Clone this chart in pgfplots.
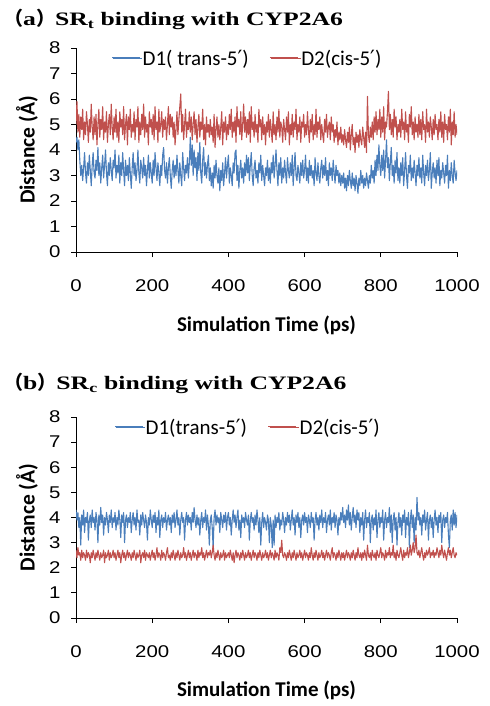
\documentclass[border=0pt]{standalone}
\usepackage{fontspec}
\usepackage{pgfplots}
\usepackage{pgfplotstable}
\pgfplotsset{compat=1.18}
\setmainfont{Liberation Sans}
\newfontfamily\tickfont{Liberation Sans}[FakeStretch=1.2]
\newfontfamily\calfont{Carlito}
\newfontfamily\symfont{DejaVu Sans}
\newfontfamily\titlefont{Liberation Serif}[FakeStretch=1.35]
\newfontfamily\cjkfont{Noto Sans CJK SC}
\definecolor{xlblue}{HTML}{4A7EBB}
\definecolor{xlred}{HTML}{C0504D}

\pgfplotstableread{
t d1 d2
0 4.3 5.0
2.5 4.5 5.9
5 4.0 4.7
7.5 4.4 5.4
10 3.6 4.5
12.5 3.0 5.3
15 3.4 4.8
17.5 2.8 5.6
20 3.3 4.4
22.5 3.9 5.1
25 3.1 4.6
27.5 2.7 5.5
30 3.5 5.0
32.5 3.0 4.3
35 3.8 5.2
37.5 3.2 4.7
40 2.6 5.8
42.5 3.4 4.9
45 3.9 4.4
47.5 3.1 5.3
50 2.9 4.6
52.5 3.6 5.4
55 3.2 4.2
57.5 4.1 5.0
60 3.0 5.6
62.5 3.5 4.5
65 2.7 5.2
67.5 3.3 4.8
70 3.8 5.7
72.5 2.9 4.4
75 3.4 5.1
77.5 4.0 4.7
80 3.1 5.5
82.5 2.6 4.3
85 3.5 5.0
87.5 3.0 5.4
90 3.7 4.6
92.5 3.2 5.8
95 2.8 4.9
97.5 3.6 4.4
100 3.3 5.3
102.5 4.0 4.7
105 2.9 5.6
107.5 3.4 4.5
110 3.1 5.1
112.5 3.8 4.3
115 2.7 5.5
117.5 3.5 4.9
120 3.0 5.2
122.5 3.9 4.6
125 3.2 5.7
127.5 2.6 4.4
130 3.6 5.0
132.5 3.0 5.4
135 3.4 4.2
137.5 2.8 5.3
140 3.7 4.8
142.5 3.1 5.6
145 2.5 4.5
147.5 3.3 5.0
150 3.9 4.7
152.5 3.0 5.5
155 3.5 4.4
157.5 2.8 5.2
160 3.2 4.9
162.5 4.0 5.7
165 3.1 4.3
167.5 2.7 5.1
170 3.6 4.6
172.5 3.3 5.4
175 2.9 4.8
177.5 3.7 5.8
180 3.0 4.5
182.5 3.4 5.3
185 2.6 4.7
187.5 3.2 5.0
190 3.8 4.2
192.5 2.9 5.5
195 3.5 4.9
197.5 3.1 5.2
200 2.7 4.6
202.5 3.6 5.4
205 3.0 4.4
207.5 3.9 5.7
210 3.3 4.8
212.5 2.8 5.1
215 3.5 4.3
217.5 3.1 5.6
220 2.6 4.7
222.5 3.4 5.0
225 3.0 5.5
227.5 3.8 4.5
230 4.1 5.2
232.5 3.2 4.8
235 2.9 5.3
237.5 3.5 4.4
240 2.7 5.0
242.5 3.3 5.7
245 3.7 4.6
247.5 3.0 5.4
250 2.5 4.9
252.5 3.2 5.3
255 3.6 4.5
257.5 2.9 5.1
260 3.4 4.2
262.5 3.0 4.8
265 3.8 5.5
267.5 3.2 4.6
270 2.7 5.2
272.5 3.5 5.7
275 3.0 6.2
277.5 2.6 4.7
280 3.9 5.4
282.5 3.3 4.4
285 2.8 5.0
287.5 3.4 5.6
290 3.1 4.5
292.5 3.7 5.1
295 2.9 4.8
297.5 3.5 5.5
300 4.5 4.7
302.5 3.4 5.3
305 4.2 4.4
307.5 3.0 5.0
310 4.0 5.5
312.5 3.3 4.6
315 3.7 5.2
317.5 2.8 4.3
320 3.9 4.9
322.5 3.2 5.4
325 4.3 4.5
327.5 3.1 5.1
330 2.7 4.8
332.5 3.6 5.6
335 4.1 4.4
337.5 3.0 5.0
340 3.5 4.2
342.5 2.9 5.3
345 3.4 4.7
347.5 3.8 5.0
350 2.8 4.5
352.5 3.3 5.2
355 2.6 4.6
357.5 3.1 4.9
360 2.5 4.3
362.5 3.4 5.4
365 2.9 4.1
367.5 3.6 4.8
370 3.0 5.3
372.5 2.7 4.5
375 3.3 5.0
377.5 2.4 4.4
380 3.2 4.9
382.5 2.8 5.5
385 3.5 4.2
387.5 2.6 5.1
390 3.1 4.7
392.5 3.7 5.3
395 2.9 4.4
397.5 3.4 5.0
400 3.8 4.6
402.5 2.7 5.4
405 3.3 4.8
407.5 3.0 5.6
410 2.6 4.5
412.5 3.5 5.1
415 3.1 4.7
417.5 3.9 5.3
420 4.0 4.3
422.5 2.8 5.7
425 3.4 4.9
427.5 2.5 5.2
430 3.2 4.6
432.5 3.6 5.5
435 2.9 4.4
437.5 3.3 5.0
440 2.7 5.8
442.5 3.5 4.7
445 3.0 5.3
447.5 3.8 4.5
450 3.1 5.2
452.5 3.7 4.6
455 2.8 5.5
457.5 3.4 4.3
460 3.9 5.7
462.5 3.0 4.8
465 2.6 5.1
467.5 3.3 4.5
470 3.6 5.4
472.5 2.9 4.7
475 3.2 5.0
477.5 2.7 4.3
480 3.5 5.6
482.5 3.1 4.9
485 3.8 5.2
487.5 2.8 4.4
490 3.4 5.3
492.5 3.0 4.6
495 2.6 5.0
497.5 3.3 4.2
500 3.0 5.1
502.5 3.6 4.7
505 2.8 5.4
507.5 3.3 4.5
510 2.7 5.2
512.5 3.5 4.8
515 3.1 4.3
517.5 3.8 5.5
520 2.9 4.6
522.5 3.4 5.0
525 4.0 4.4
527.5 3.2 5.3
530 2.6 4.7
532.5 3.5 5.6
535 3.0 4.5
537.5 3.7 5.1
540 2.7 4.9
542.5 3.3 4.3
545 2.9 5.2
547.5 3.6 4.8
550 3.1 4.4
552.5 2.7 5.3
555 3.7 4.7
557.5 3.2 5.5
560 2.9 4.2
562.5 3.5 5.0
565 3.0 4.6
567.5 3.8 5.4
570 2.6 4.5
572.5 3.3 5.1
575 3.9 4.8
577.5 3.0 5.6
580 2.8 4.4
582.5 3.4 5.0
585 3.1 4.7
587.5 2.7 5.3
590 3.5 4.3
592.5 3.0 5.1
595 3.6 4.9
597.5 2.9 5.4
600 3.2 4.5
602.5 3.8 5.0
605 2.8 4.6
607.5 3.3 5.5
610 2.7 4.8
612.5 3.6 4.3
615 3.0 5.2
617.5 3.4 4.7
620 2.9 5.4
622.5 3.2 4.4
625 2.6 5.0
627.5 3.7 4.6
630 3.1 5.6
632.5 2.8 4.5
635 3.5 5.1
637.5 3.0 4.8
640 2.7 5.3
642.5 3.3 4.4
645 3.6 5.0
647.5 2.9 4.6
650 3.4 4.3
652.5 3.0 5.2
655 3.7 4.7
657.5 2.8 5.4
660 3.2 4.5
662.5 2.6 4.9
665 3.5 5.1
667.5 3.0 4.4
670 3.3 5.3
672.5 2.8 4.7
675 3.6 5.0
677.5 3.1 4.3
680 2.7 4.8
682.5 3.4 4.5
685 3.0 5.1
687.5 3.2 4.2
690 2.7 4.7
692.5 3.1 4.4
695 2.6 4.9
697.5 3.0 4.3
700 2.7 4.6
702.5 3.1 4.2
705 2.5 4.8
707.5 2.9 4.4
710 2.4 4.1
712.5 3.0 4.7
715 2.6 4.3
717.5 3.2 4.9
720 2.8 4.0
722.5 2.5 4.6
725 3.1 5.0
727.5 2.6 4.2
730 2.9 4.5
732.5 2.4 3.9
735 3.0 4.7
737.5 2.7 4.3
740 2.3 4.6
742.5 2.9 4.1
745 2.6 4.8
747.5 3.2 4.4
750 2.7 4.2
752.5 3.0 4.9
755 2.5 4.5
757.5 2.9 4.1
760 2.6 4.7
762.5 3.1 3.9
765 2.8 6.1
767.5 2.5 4.6
770 3.0 4.3
772.5 2.7 4.9
775 3.4 4.5
777.5 2.9 5.1
780 3.2 4.4
782.5 2.7 5.3
785 3.6 4.7
787.5 3.0 5.5
790 3.8 4.6
792.5 3.2 5.2
795 4.2 4.8
797.5 3.4 5.6
800 3.0 4.5
802.5 3.8 5.3
805 3.2 4.7
807.5 4.0 5.7
810 2.9 4.4
812.5 3.6 5.1
815 4.4 4.9
817.5 3.3 5.5
820 3.7 6.3
822.5 2.8 4.8
825 3.5 5.4
827.5 4.1 4.6
830 3.0 5.2
832.5 3.4 4.5
835 2.7 5.6
837.5 3.6 4.9
840 3.1 5.3
842.5 3.9 4.4
845 2.8 5.0
847.5 3.3 4.7
850 2.7 5.2
852.5 3.5 4.5
855 3.0 5.6
857.5 3.7 4.8
860 2.6 5.1
862.5 3.2 4.4
865 3.9 5.5
867.5 3.0 4.7
870 2.5 5.0
872.5 3.4 4.3
875 3.1 5.4
877.5 3.8 4.9
880 2.8 5.7
882.5 3.3 4.6
885 2.9 5.1
887.5 3.6 4.4
890 3.1 5.3
892.5 2.6 4.7
895 3.4 5.0
897.5 3.0 4.5
900 3.7 5.4
902.5 2.9 4.6
905 3.3 5.2
907.5 2.7 4.4
910 3.8 5.5
912.5 3.1 4.8
915 2.6 5.0
917.5 3.4 4.3
920 3.0 5.6
922.5 3.6 4.7
925 2.8 5.1
927.5 3.2 4.5
930 3.9 5.3
932.5 2.5 4.9
935 3.1 4.4
937.5 3.5 5.2
940 2.9 4.6
942.5 3.3 5.4
945 2.7 4.8
947.5 3.6 5.0
950 3.0 4.4
952.5 3.7 5.2
955 2.6 4.7
957.5 3.2 5.5
960 2.9 4.5
962.5 3.5 5.1
965 3.1 4.3
967.5 2.7 5.4
970 3.4 4.8
972.5 3.0 5.0
975 3.8 4.4
977.5 2.5 5.3
980 3.2 4.7
982.5 2.8 5.6
985 3.5 4.2
987.5 3.0 5.1
990 2.7 4.6
992.5 3.6 5.5
995 3.1 4.5
997.5 2.8 5.0
1000 3.2 4.6
}\dataA

\pgfplotstableread{
t d1 d2
0 4.3 2.7
2.5 3.9 2.4
5 4.2 2.8
7.5 3.6 2.5
10 4.0 2.6
12.5 2.9 2.3
15 4.1 2.7
17.5 3.7 2.4
20 4.3 2.6
22.5 3.4 2.5
25 4.0 2.3
27.5 3.8 2.7
30 4.2 2.4
32.5 3.1 2.6
35 3.9 2.5
37.5 4.1 2.2
40 3.6 2.6
42.5 4.3 2.4
45 3.8 2.7
47.5 4.0 2.5
50 3.5 2.3
52.5 4.2 2.6
55 3.9 2.4
57.5 3.0 2.7
60 4.1 2.5
62.5 3.7 2.3
65 4.4 2.6
67.5 3.8 2.4
70 4.1 2.5
72.5 3.3 2.7
75 4.0 2.2
77.5 3.7 2.6
80 4.2 2.4
82.5 3.9 2.5
85 3.4 2.7
87.5 4.1 2.3
90 3.8 2.6
92.5 4.3 2.4
95 3.6 2.5
97.5 4.0 2.7
100 3.8 2.4
102.5 4.2 2.6
105 3.5 2.3
107.5 4.0 2.5
110 3.7 2.7
112.5 4.3 2.4
115 3.9 2.6
117.5 3.2 2.2
120 4.1 2.5
122.5 3.8 2.7
125 4.2 2.4
127.5 3.0 2.6
130 3.9 2.3
132.5 4.1 2.5
135 3.6 2.7
137.5 4.0 2.4
140 3.8 2.6
142.5 4.2 2.5
145 3.4 2.3
147.5 3.9 2.6
150 4.2 2.4
152.5 3.7 2.7
155 4.0 2.5
157.5 3.5 2.3
160 4.3 2.6
162.5 3.8 2.4
165 3.9 2.5
167.5 3.3 2.7
170 4.1 2.2
172.5 3.7 2.5
175 4.2 2.6
177.5 3.9 2.4
180 3.6 2.7
182.5 4.1 2.3
185 3.8 2.6
187.5 3.1 2.5
190 4.0 2.4
192.5 3.7 2.6
195 4.3 2.3
197.5 3.9 2.5
200 3.6 2.7
202.5 4.1 2.4
205 3.8 2.6
207.5 4.2 2.3
210 3.4 2.5
212.5 4.0 2.8
215 3.7 2.4
217.5 4.3 2.6
220 3.2 2.5
222.5 3.9 2.3
225 4.1 2.7
227.5 3.6 2.4
230 4.0 2.6
232.5 3.8 2.5
235 4.2 2.3
237.5 3.5 2.6
240 3.9 2.8
242.5 4.1 2.4
245 3.7 2.5
247.5 4.0 2.3
250 3.4 2.6
252.5 4.1 2.4
255 3.8 2.7
257.5 4.2 2.5
260 3.6 2.3
262.5 3.9 2.6
265 4.3 2.4
267.5 3.7 2.7
270 4.0 2.5
272.5 3.3 2.3
275 3.9 2.6
277.5 4.2 2.4
280 3.8 2.5
282.5 4.0 2.8
285 3.1 2.4
287.5 3.9 2.6
290 4.2 2.3
292.5 3.7 2.5
295 4.1 2.7
297.5 3.8 2.4
300 4.0 2.6
302.5 3.5 2.3
305 4.2 2.5
307.5 3.8 2.7
310 4.4 2.4
312.5 3.9 2.6
315 3.6 2.5
317.5 4.1 2.3
320 3.7 2.7
322.5 4.0 2.4
325 3.3 2.6
327.5 3.9 2.5
330 4.2 2.8
332.5 3.6 2.4
335 4.0 2.6
337.5 3.8 2.3
340 4.3 2.5
342.5 3.5 2.7
345 4.1 2.4
347.5 3.7 2.6
350 2.9 2.5
352.5 3.9 2.7
355 4.1 2.4
357.5 3.6 2.6
360 2.8 2.9
362.5 4.0 2.5
365 4.3 2.3
367.5 3.7 2.6
370 4.1 2.4
372.5 3.8 2.7
375 4.0 2.5
377.5 3.4 2.3
380 4.2 2.6
382.5 3.9 2.4
385 3.6 2.5
387.5 4.1 2.7
390 3.8 2.3
392.5 4.2 2.6
395 3.5 2.4
397.5 4.0 2.5
400 4.2 2.6
402.5 3.7 2.4
405 4.0 2.7
407.5 3.3 2.5
410 3.9 2.3
412.5 4.3 2.6
415 3.8 2.2
417.5 4.1 2.5
420 3.6 2.7
422.5 4.0 2.4
425 4.3 2.6
427.5 3.5 2.5
430 3.9 2.3
432.5 3.2 2.6
435 4.1 2.4
437.5 3.8 2.7
440 4.0 2.5
442.5 3.6 2.3
445 4.2 2.6
447.5 3.9 2.4
450 3.7 2.5
452.5 4.1 2.7
455 3.1 2.4
457.5 3.9 2.6
460 4.2 2.3
462.5 3.8 2.5
465 4.0 2.7
467.5 3.5 2.4
470 4.1 2.6
472.5 3.7 2.5
475 4.3 2.3
477.5 3.9 2.6
480 3.4 2.4
482.5 4.0 2.7
485 2.9 2.5
487.5 3.8 2.3
490 4.2 2.6
492.5 3.6 2.4
495 4.0 2.5
497.5 3.8 2.7
500 3.5 2.4
502.5 4.1 2.6
505 3.9 2.3
507.5 3.0 2.5
510 4.0 2.7
512.5 3.7 2.4
515 2.8 2.6
517.5 3.9 2.5
520 2.9 2.3
522.5 4.1 2.7
525 3.6 2.4
527.5 4.0 2.6
530 3.8 2.5
532.5 4.2 2.3
535 3.5 2.8
537.5 3.9 2.6
540 3.7 3.1
542.5 4.2 2.5
545 3.9 2.4
547.5 3.4 2.6
550 4.0 2.5
552.5 3.7 2.3
555 4.2 2.6
557.5 3.8 2.4
560 4.1 2.7
562.5 3.5 2.5
565 3.9 2.3
567.5 4.3 2.6
570 3.7 2.4
572.5 4.0 2.7
575 3.3 2.5
577.5 4.1 2.3
580 3.8 2.6
582.5 4.2 2.4
585 3.6 2.5
587.5 4.0 2.7
590 3.2 2.4
592.5 3.9 2.6
595 4.1 2.3
597.5 3.7 2.5
600 4.2 2.7
602.5 3.8 2.4
605 4.0 2.6
607.5 3.4 2.5
610 4.1 2.3
612.5 3.9 2.6
615 3.6 2.4
617.5 4.2 2.8
620 3.8 2.5
622.5 4.0 2.3
625 3.1 2.6
627.5 3.9 2.4
630 4.2 2.7
632.5 3.7 2.5
635 4.0 2.3
637.5 3.5 2.6
640 4.1 2.4
642.5 3.8 2.5
645 4.3 2.7
647.5 3.6 2.4
650 4.0 2.6
652.5 3.8 2.3
655 4.2 2.5
657.5 3.4 2.7
660 3.9 2.4
662.5 4.1 2.6
665 3.7 2.5
667.5 4.3 2.3
670 3.5 2.6
672.5 4.0 2.8
675 3.8 2.4
677.5 4.2 2.6
680 3.6 2.5
682.5 4.1 2.3
685 3.9 2.6
687.5 3.3 2.4
690 4.0 2.7
692.5 3.7 2.5
695 4.2 2.3
697.5 3.9 2.6
700 4.4 2.4
702.5 3.8 2.6
705 4.1 2.3
707.5 3.6 2.5
710 4.3 2.7
712.5 3.9 2.4
715 4.5 2.6
717.5 3.7 2.5
720 4.2 2.3
722.5 3.5 2.6
725 4.0 2.4
727.5 4.4 2.7
730 3.8 2.5
732.5 4.1 2.3
735 3.6 2.6
737.5 4.3 2.4
740 3.9 2.8
742.5 4.2 2.5
745 3.4 2.4
747.5 4.0 2.6
750 3.7 2.3
752.5 4.2 2.6
755 3.1 2.4
757.5 3.9 2.7
760 4.3 2.5
762.5 3.6 2.3
765 4.0 2.9
767.5 3.8 2.5
770 4.2 2.4
772.5 3.0 2.6
775 3.9 2.3
777.5 4.1 2.7
780 3.5 2.5
782.5 4.0 2.4
785 3.7 2.6
787.5 4.3 2.3
790 3.2 2.7
792.5 3.9 2.5
795 4.2 2.4
797.5 3.6 2.6
800 4.0 2.8
802.5 3.8 2.4
805 4.3 2.6
807.5 3.1 2.5
810 3.9 2.3
812.5 4.2 2.7
815 3.6 2.4
817.5 4.0 2.6
820 3.8 2.5
822.5 4.4 2.8
825 3.4 2.4
827.5 4.1 2.6
830 3.0 2.5
832.5 3.9 2.9
835 4.2 2.4
837.5 3.5 2.6
840 4.0 2.3
842.5 2.9 2.7
845 3.8 2.5
847.5 4.2 2.4
850 3.6 2.6
852.5 4.0 2.8
855 3.3 2.5
857.5 4.1 2.3
860 3.8 2.7
862.5 4.3 2.4
865 3.2 2.6
867.5 4.0 2.5
870 3.7 2.8
872.5 4.2 2.4
875 2.8 2.6
877.5 3.9 2.9
880 4.3 2.5
882.5 3.6 2.7
885 4.1 3.0
887.5 3.0 2.6
890 4.0 2.8
892.5 3.5 3.3
895 4.8 2.6
897.5 3.9 2.5
900 4.2 2.7
902.5 3.7 2.4
905 4.0 2.6
907.5 3.3 2.8
910 4.1 2.5
912.5 3.8 2.3
915 4.3 2.6
917.5 3.5 2.4
920 3.9 2.7
922.5 4.2 2.5
925 3.1 2.6
927.5 3.9 2.8
930 4.1 2.4
932.5 3.6 2.6
935 4.0 2.5
937.5 3.2 2.7
940 3.9 2.4
942.5 4.3 2.6
945 3.7 2.5
947.5 4.0 2.8
950 3.4 2.6
952.5 4.1 2.4
955 3.8 2.7
957.5 4.2 2.5
960 3.0 2.9
962.5 3.9 2.6
965 4.1 2.4
967.5 3.6 2.7
970 4.0 2.5
972.5 3.8 2.3
975 4.2 2.6
977.5 3.3 2.8
980 2.8 2.5
982.5 3.9 2.7
985 4.1 2.4
987.5 3.5 2.6
990 4.3 2.8
992.5 3.7 2.5
995 4.2 2.4
997.5 3.6 2.6
1000 4.1 2.5
}\dataB

\pgfplotsset{
  myaxis/.style={
    scale only axis, width=381bp,
    xmin=0, xmax=1000, ymin=0, ymax=8,
    xtick={0,200,400,600,800,1000}, ytick={0,1,2,3,4,5,6,7,8},
    axis x line*=bottom, axis y line*=left,
    axis line style={-, black, line width=0.8bp},
    tick align=outside, major tick length=5bp,
    every tick/.style={black, line width=0.8bp},
    tick label style={font=\tickfont\fontsize{17bp}{17bp}\selectfont},
    /pgf/number format/assume math mode=true,
    /pgf/number format/1000 sep={},
    xticklabel style={yshift=-19bp},
    yticklabel style={xshift=-7bp},
    xlabel={Simulation Time (ps)}, ylabel={Distance (Å)},
    every axis x label/.style={at={(axis description cs:0.5,-0.36)}, anchor=center,
      font=\calfont\bfseries\fontsize{21bp}{21bp}\selectfont},
    every axis y label/.style={at={(axis description cs:-0.1286,0.5)}, anchor=center, rotate=90,
      font=\calfont\bfseries\fontsize{21.5bp}{21.5bp}\selectfont},
    legend columns=2,
    legend cell align=left,
    legend image code/.code={\path (0bp,0bp) -- (29.5bp,0bp);},
    legend style={draw=none, fill=none, inner sep=0pt,
      font=\calfont\fontsize{21bp}{21bp}\selectfont,
      nodes={inner xsep=0bp, inner ysep=1bp},
      /tikz/every even column/.append style={column sep=22bp}},
  },
  keyline/.style={forget plot, line width=1.3bp},
}

\begin{document}
\begin{tikzpicture}
\useasboundingbox (0,0) rectangle (490bp,-706bp);

\node[anchor=base west, inner sep=0pt, font=\titlefont\bfseries\fontsize{19bp}{19bp}\selectfont]
  at (4bp,-25bp) {{\cjkfont （}a{\cjkfont ）}SR\textsubscript{t} binding with CYP2A6};

\begin{axis}[myaxis, height=204bp, at={(76bp,-252bp)}, anchor=south west,
  legend style={at={(axis description cs:0.094,0.995)}, anchor=north west}]
  \addplot[draw=xlblue, line width=1.1bp, line join=round] table[x=t, y=d1] {\dataA};
  \addlegendentry{D1( trans-5{\symfont ′})}
  \addplot[draw=xlred, line width=1.1bp, line join=round] table[x=t, y=d2] {\dataA};
  \addlegendentry{D2(cis-5{\symfont ′})}
  \addplot[keyline, draw=xlblue] coordinates {(94.5,7.62) (168,7.62)};
  \addplot[keyline, draw=xlred] coordinates {(509,7.62) (582,7.62)};
\end{axis}

\node[anchor=base west, inner sep=0pt, font=\titlefont\bfseries\fontsize{19bp}{19bp}\selectfont]
  at (4bp,-389bp) {{\cjkfont （}b{\cjkfont ）}SR\textsubscript{c} binding with CYP2A6};

\begin{axis}[myaxis, height=201bp, at={(76bp,-618bp)}, anchor=south west,
  legend style={at={(axis description cs:0.102,0.995)}, anchor=north west}]
  \addplot[draw=xlblue, line width=1.1bp, line join=round] table[x=t, y=d1] {\dataB};
  \addlegendentry{D1(trans-5{\symfont ′})}
  \addplot[draw=xlred, line width=1.1bp, line join=round] table[x=t, y=d2] {\dataB};
  \addlegendentry{D2(cis-5{\symfont ′})}
  \addplot[keyline, draw=xlblue] coordinates {(102,7.62) (175.5,7.62)};
  \addplot[keyline, draw=xlred] coordinates {(504,7.62) (577,7.62)};
\end{axis}
\end{tikzpicture}
\end{document}
